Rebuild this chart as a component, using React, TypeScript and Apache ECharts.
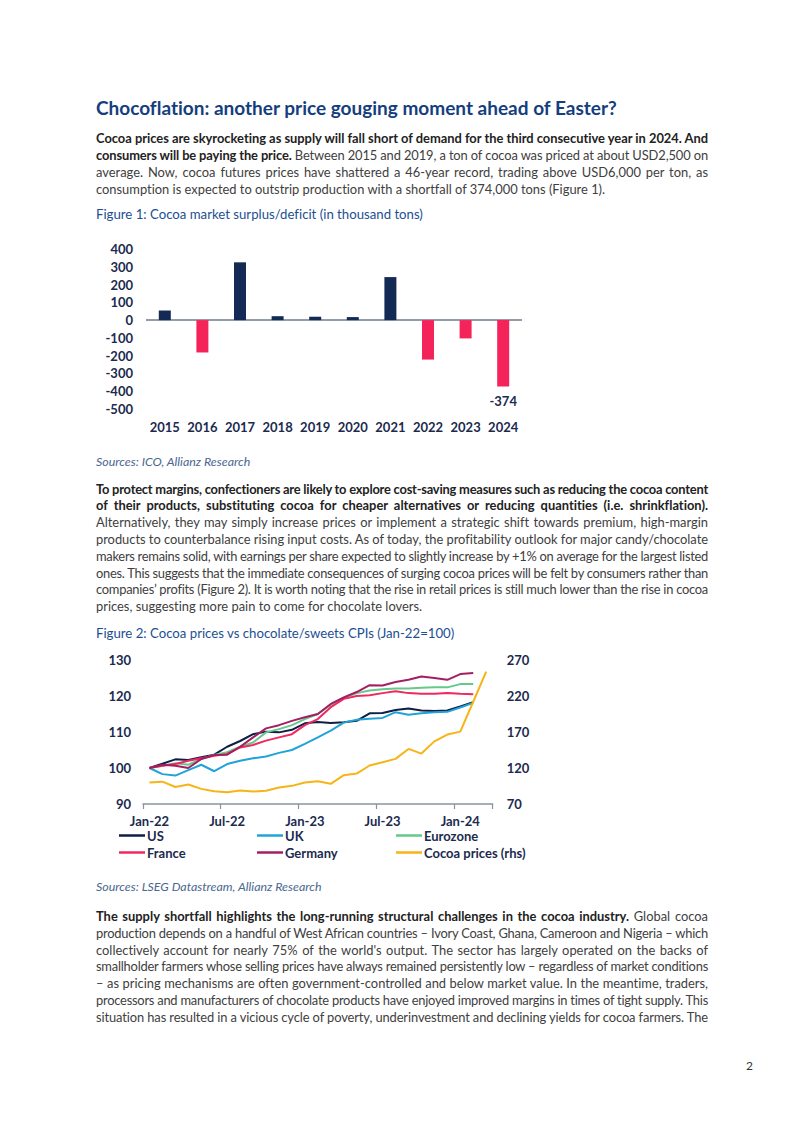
import React, { useEffect, useLayoutEffect, useRef } from "react";
import * as echarts from "echarts";

// ---------- Figure 1 data ----------
const years = ["2015", "2016", "2017", "2018", "2019", "2020", "2021", "2022", "2023", "2024"];
const balance = [54, -182, 325, 22, 19, 17, 242, -222, -103, -374];

// ---------- Figure 2 data ----------
const months = [
  "Jan-22", "Feb-22", "Mar-22", "Apr-22", "May-22", "Jun-22", "Jul-22", "Aug-22", "Sep-22",
  "Oct-22", "Nov-22", "Dec-22", "Jan-23", "Feb-23", "Mar-23", "Apr-23", "May-23", "Jun-23",
  "Jul-23", "Aug-23", "Sep-23", "Oct-23", "Nov-23", "Dec-23", "Jan-24", "Feb-24", "Mar-24",
];
const usCpi = [100, 101.2, 102.4, 102.2, 103.0, 103.7, 105.9, 107.5, 109.4, 110.1, 109.9, 110.6, 112.4, 112.8, 112.5, 112.7, 113.1, 115.2, 115.3, 116.1, 116.5, 116.0, 115.8, 116.0, 117.1, 118.3];
const ukCpi = [100, 98.3, 97.9, 99.4, 100.9, 99.1, 101.1, 102.0, 102.7, 103.2, 104.2, 105.0, 106.7, 108.5, 110.4, 112.6, 113.4, 113.7, 113.9, 115.5, 114.8, 115.2, 115.5, 115.6, 116.8, 118.1];
const ezCpi = [100, 100.6, 101.3, 100.9, 102.5, 103.6, 104.4, 105.9, 107.1, 109.9, 110.8, 111.9, 113.6, 115.0, 117.6, 119.4, 120.8, 121.5, 121.9, 122.1, 122.1, 122.3, 122.4, 122.4, 123.3, 123.3];
const frCpi = [100, 100.6, 101.1, 102.0, 102.7, 103.4, 103.9, 105.7, 106.4, 107.6, 108.5, 109.4, 111.9, 113.6, 116.9, 119.2, 120.0, 120.2, 120.8, 121.3, 120.8, 120.6, 120.6, 120.8, 120.6, 120.5];
const deCpi = [100, 100.9, 100.6, 100.0, 102.5, 103.6, 103.7, 105.9, 108.5, 111.0, 111.9, 113.1, 114.1, 115.0, 117.8, 119.6, 121.1, 123.0, 122.9, 123.9, 124.5, 125.4, 125.0, 124.5, 126.1, 126.4];
const cocoa = [100, 101, 93.6, 97, 91, 87.8, 86.2, 88.7, 87.3, 88.5, 92.9, 95.2, 99.8, 101.5, 98, 110, 112.3, 123.5, 128, 132.7, 146.5, 140, 157, 166.5, 170.5, 212, 254];

// ---------- Styling ----------
const FONT = 'Lato, "Noto Sans", "DejaVu Sans", sans-serif';
const AXIS_TXT = "#1b2a4e";
const BAR_POS = "#132a55";
const BAR_NEG = "#f4245b";
const TITLE_C = "#153e7e";
const FIG_C = "#1c4f92";
const SRC_C = "#4a6790";
const BODY_C = "#404040";
const BOLD_C = "#222222";
const TEXT_LEFT = 96;
const TEXT_W = 612;
const LH = 16.8;
const BODY_SIZE = 12.9;

type Seg = { t: string; b?: boolean };

const para1: Seg[][] = [
  [{ t: "Cocoa prices are skyrocketing as supply will fall short of demand for the third consecutive year in 2024. And", b: true }],
  [{ t: "consumers will be paying the price.", b: true }, { t: " Between 2015 and 2019, a ton of cocoa was priced at about USD2,500 on" }],
  [{ t: "average. Now, cocoa futures prices have shattered a 46-year record, trading above USD6,000 per ton, as" }],
  [{ t: "consumption is expected to outstrip production with a shortfall of 374,000 tons (Figure 1)." }],
];
const para2: Seg[][] = [
  [{ t: "To protect margins, confectioners are likely to explore cost-saving measures such as reducing the cocoa content", b: true }],
  [{ t: "of their products, substituting cocoa for cheaper alternatives or reducing quantities (i.e. shrinkflation).", b: true }],
  [{ t: "Alternatively, they may simply increase prices or implement a strategic shift towards premium, high-margin" }],
  [{ t: "products to counterbalance rising input costs. As of today, the profitability outlook for major candy/chocolate" }],
  [{ t: "makers remains solid, with earnings per share expected to slightly increase by +1% on average for the largest listed" }],
  [{ t: "ones. This suggests that the immediate consequences of surging cocoa prices will be felt by consumers rather than" }],
  [{ t: "companies\u2019 profits (Figure 2). It is worth noting that the rise in retail prices is still much lower than the rise in cocoa" }],
  [{ t: "prices, suggesting more pain to come for chocolate lovers." }],
];
const para3: Seg[][] = [
  [{ t: "The supply shortfall highlights the long-running structural challenges in the cocoa industry.", b: true }, { t: " Global cocoa" }],
  [{ t: "production depends on a handful of West African countries \u2013 Ivory Coast, Ghana, Cameroon and Nigeria \u2013 which" }],
  [{ t: "collectively account for nearly 75% of the world's output. The sector has largely operated on the backs of" }],
  [{ t: "smallholder farmers whose selling prices have always remained persistently low \u2013 regardless of market conditions" }],
  [{ t: "\u2013 as pricing mechanisms are often government-controlled and below market value. In the meantime, traders," }],
  [{ t: "processors and manufacturers of chocolate products have enjoyed improved margins in times of tight supply. This" }],
  [{ t: "situation has resulted in a vicious cycle of poverty, underinvestment and declining yields for cocoa farmers. The" }],
];

function Paragraph({ lines, y0, lastJustified }: { lines: Seg[][]; y0: number; lastJustified?: boolean }) {
  return (
    <>
      {lines.map((segs, i) => {
        const just = i < lines.length - 1 || !!lastJustified;
        return (
          <div
            key={i}
            style={{
              position: "absolute",
              left: TEXT_LEFT,
              top: y0 + i * LH - 9,
              height: 18,
              lineHeight: "18px",
              whiteSpace: "nowrap",
              fontSize: BODY_SIZE,
              color: BODY_C,
            }}
          >
            <span data-j={just ? "1" : "0"} style={{ display: "inline-block" }}>
              {segs.map((s, k) => (
                <span key={k} style={{ fontWeight: s.b ? 700 : 400, color: s.b ? BOLD_C : BODY_C }}>
                  {s.t}
                </span>
              ))}
            </span>
          </div>
        );
      })}
    </>
  );
}

function Label({ text, y, size, color, bold, italic, left }: { text: string; y: number; size: number; color: string; bold?: boolean; italic?: boolean; left?: number }) {
  return (
    <div
      style={{
        position: "absolute",
        left: left ?? TEXT_LEFT,
        top: y - 12,
        height: 24,
        lineHeight: "24px",
        whiteSpace: "nowrap",
        fontSize: size,
        color,
        fontWeight: bold ? 700 : 400,
        fontStyle: italic ? "italic" : "normal",
      }}
    >
      {text}
    </div>
  );
}

function justifyAll(root: HTMLElement) {
  root.querySelectorAll<HTMLElement>('[data-j="1"]').forEach((el) => {
    el.style.wordSpacing = "0px";
    el.style.letterSpacing = "0px";
    const w = el.getBoundingClientRect().width;
    const text = el.textContent || "";
    const spaces = (text.match(/ /g) || []).length;
    const diff = TEXT_W - w;
    if (diff >= 0) {
      if (spaces > 0) el.style.wordSpacing = diff / spaces + "px";
    } else {
      el.style.letterSpacing = diff / text.length + "px";
    }
  });
}

export default function App() {
  const pageRef = useRef<HTMLDivElement>(null);
  const chartRef = useRef<HTMLDivElement>(null);

  useLayoutEffect(() => {
    if (pageRef.current) justifyAll(pageRef.current);
    const fonts = (document as any).fonts;
    if (fonts && fonts.ready) {
      fonts.ready.then(() => {
        if (pageRef.current) justifyAll(pageRef.current);
      });
    }
  }, []);

  useEffect(() => {
    if (!chartRef.current) return;
    const chart = echarts.init(chartRef.current, undefined, { renderer: "svg" });
    const axisLabel = { color: AXIS_TXT, fontWeight: "bold" as const, fontSize: 13, fontFamily: FONT };
    const legendItem = (name: string, left: number, top: number) => ({
      data: [name],
      left,
      top,
      padding: 0,
      icon: "rect",
      itemWidth: 26,
      itemHeight: 2.5,
      itemGap: 0,
      selectedMode: false,
      textStyle: { color: AXIS_TXT, fontWeight: "bold", fontSize: 13, fontFamily: FONT, padding: [0, 0, 0, -3] },
    });
    const lineSeries = (name: string, data: number[], color: string, yAxisIndex: number) => ({
      name,
      type: "line",
      xAxisIndex: 1,
      yAxisIndex,
      data,
      symbol: "none",
      lineStyle: { color, width: 2 },
      itemStyle: { color },
      z: 3,
    });

    chart.setOption({
      animation: false,
      textStyle: { fontFamily: FONT },
      grid: [
        { left: 146, top: 249, width: 376, height: 160 },
        { left: 143, top: 660, width: 349.65, height: 144 },
      ],
      xAxis: [
        {
          type: "category",
          gridIndex: 0,
          data: years,
          axisLine: { show: false, onZero: false },
          axisTick: { show: false },
          axisLabel: { ...axisLabel, margin: 11, interval: 0 },
        },
        {
          type: "category",
          gridIndex: 1,
          data: months,
          boundaryGap: true,
          axisLine: { show: true, onZero: false, lineStyle: { color: "#8a93a3", width: 1.5 } },
          axisTick: { show: true, interval: 5, length: 5, lineStyle: { color: "#8a93a3", width: 1.2 } },
          axisLabel: { ...axisLabel, interval: 5, margin: 10 },
        },
      ],
      yAxis: [
        {
          type: "value",
          gridIndex: 0,
          min: -500,
          max: 400,
          interval: 100,
          splitLine: { show: false },
          axisLine: { show: false },
          axisTick: { show: false },
          axisLabel: { ...axisLabel, margin: 13 },
        },
        {
          type: "value",
          gridIndex: 1,
          min: 90,
          max: 130,
          interval: 10,
          splitLine: { show: false },
          axisLine: { show: false },
          axisTick: { show: false },
          axisLabel: { ...axisLabel, margin: 12 },
        },
        {
          type: "value",
          gridIndex: 1,
          position: "right",
          min: 70,
          max: 270,
          interval: 50,
          splitLine: { show: false },
          axisLine: { show: false },
          axisTick: { show: false },
          axisLabel: { ...axisLabel, margin: 14 },
        },
      ],
      legend: [
        legendItem("US", 119, 829),
        legendItem("UK", 257, 829),
        legendItem("Eurozone", 396, 829),
        legendItem("France", 119, 846),
        legendItem("Germany", 257, 846),
        legendItem("Cocoa prices (rhs)", 396, 846),
      ],
      series: [
        {
          name: "Surplus/deficit",
          type: "bar",
          xAxisIndex: 0,
          yAxisIndex: 0,
          barWidth: 12,
          data: balance.map((v, i) =>
            i === balance.length - 1
              ? {
                  value: v,
                  label: {
                    show: true,
                    position: "bottom",
                    distance: 8,
                    color: AXIS_TXT,
                    fontWeight: "bold",
                    fontSize: 13,
                    fontFamily: FONT,
                  },
                }
              : v
          ),
          itemStyle: { color: (p: any) => (p.value >= 0 ? BAR_POS : BAR_NEG) },
          markLine: {
            silent: true,
            symbol: ["none", "none"],
            label: { show: false },
            lineStyle: { color: "#6f7b8f", width: 1.5, type: "solid" },
            data: [{ yAxis: 0 }],
            z: 1,
          },
        },
        lineSeries("US", usCpi, "#0e1f45", 1),
        lineSeries("UK", ukCpi, "#22a3d8", 1),
        lineSeries("Eurozone", ezCpi, "#65c98a", 1),
        lineSeries("France", frCpi, "#f0285f", 1),
        lineSeries("Germany", deCpi, "#a31f62", 1),
        lineSeries("Cocoa prices (rhs)", cocoa, "#f7b416", 2),
      ],
    });
    return () => chart.dispose();
  }, []);

  return (
    <div
      ref={pageRef}
      style={{
        position: "absolute",
        left: 0,
        top: 0,
        width: 802,
        height: 1133,
        overflow: "hidden",
        background: "#ffffff",
        fontFamily: FONT,
        fontVariantLigatures: "none",
      }}
    >
      <Label text="Chocoflation: another price gouging moment ahead of Easter?" y={108} size={19} color={TITLE_C} bold />
      <Paragraph lines={para1} y0={138.3} />
      <Label text="Figure 1: Cocoa market surplus/deficit (in thousand tons)" y={214} size={13.2} color={FIG_C} />
      <Label text="Sources: ICO, Allianz Research" y={462} size={12.4} color={SRC_C} italic />
      <Paragraph lines={para2} y0={488.5} />
      <Label text="Figure 2: Cocoa prices vs chocolate/sweets CPIs (Jan-22=100)" y={633} size={13.2} color={FIG_C} />
      <Label text="Sources: LSEG Datastream, Allianz Research" y={887} size={12.4} color={SRC_C} italic />
      <Paragraph lines={para3} y0={916} lastJustified />
      <Label text="2" y={1066} size={12} color="#333333" left={746} />
      <div ref={chartRef} style={{ position: "absolute", left: 0, top: 0, width: 802, height: 1133 }} />
    </div>
  );
}
